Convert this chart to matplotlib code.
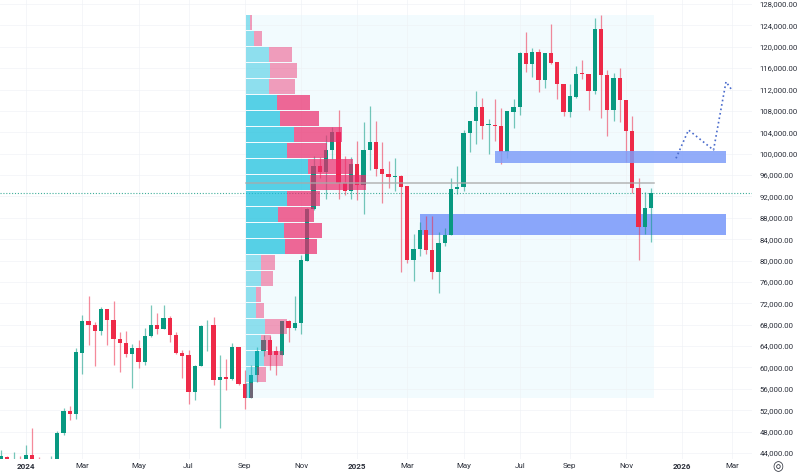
import pandas as pd
import matplotlib
matplotlib.use('Agg')
import matplotlib.pyplot as plt
import matplotlib.dates as mdates
from matplotlib.ticker import FuncFormatter

plt.rcParams['font.family'] = ['Roboto', 'DejaVu Sans']

# weekly candles, prices in thousands
opens = [42.2, 43.2, 41.8, 42.4, 42.3, 43.55, 42.5, 42.2, 42.0, 42.4,
         47.7, 51.8, 51.2, 62.7, 68.6, 67.85, 66.75, 70.85, 68.9, 65.35,
         64.5, 62.6, 63.55, 61.0, 65.85, 68.0, 67.15, 69.2, 66.15, 62.7,
         62.3, 55.4, 60.3, 67.85, 67.9, 57.65, 58.3, 57.9, 63.85, 56.85,
         54.35, 58.6, 63.0, 65.2, 63.0, 62.4, 68.65, 67.45, 68.3, 80.0,
         89.6, 97.6, 96.6, 100.75, 104.07, 94.5, 93.0, 98.0, 94.1, 100.75,
         102.2, 97.2, 96.15, 95.65, 95.8, 93.9, 80.15, 82.1, 85.65, 81.9,
         77.85, 83.3, 84.85, 93.3, 93.85, 103.8, 106.1, 108.65, 105.4, 105.4,
         105.2, 100.4, 107.8, 108.75, 118.75, 116.8, 119.0, 113.75, 118.9, 117.1,
         113.05, 107.75, 110.6, 115.05, 114.85, 111.7, 123.25, 114.7, 108.2, 114.1,
         110.1, 104.3, 93.65, 86.3, 89.9]
closes = [43.35, 42.5, 42.3, 42.0, 43.55, 42.4, 42.3, 42.4, 42.4, 47.8,
          51.8, 51.2, 62.8, 68.6, 67.85, 66.75, 70.85, 68.9, 65.35, 64.5,
          62.6, 63.55, 61.0, 65.85, 68.0, 67.15, 69.2, 66.15, 62.7, 62.15,
          55.4, 60.3, 67.8, 67.95, 57.65, 58.3, 57.9, 63.85, 56.85, 54.35,
          58.65, 63.0, 65.1, 62.4, 62.3, 68.65, 67.45, 68.3, 80.1, 89.6,
          97.6, 96.6, 100.75, 104.07, 94.5, 93.0, 98.0, 94.1, 100.75, 102.2,
          97.2, 96.15, 95.65, 95.85, 93.8, 80.15, 82.1, 85.65, 81.9, 77.85,
          83.35, 84.85, 93.3, 93.85, 103.8, 106.1, 108.65, 105.2, 105.5, 105.1,
          100.4, 108.0, 108.75, 118.75, 116.8, 119.0, 113.75, 118.9, 117.05, 113.0,
          107.75, 110.75, 114.9, 114.85, 111.7, 123.25, 114.7, 108.2, 114.1, 110.1,
          104.3, 93.65, 86.3, 89.9, 92.65]
highs = [44.5, 43.4, 44.2, 43.35, 45.55, 48.65, 43.2, 42.6, 43.35, 48.1,
         52.5, 52.7, 63.7, 69.8, 73.35, 68.55, 71.35, 70.85, 72.5, 66.55,
         66.85, 64.35, 65.1, 67.3, 71.6, 70.25, 71.6, 69.65, 66.65, 63.35,
         63.35, 60.4, 67.9, 68.85, 69.5, 62.4, 61.5, 64.6, 63.9, 59.5,
         60.4, 63.8, 66.0, 65.9, 63.95, 68.7, 68.8, 73.3, 81.0, 89.75,
         99.6, 99.4, 103.4, 105.0, 108.1, 99.5, 99.4, 102.4, 106.0, 108.9,
         106.15, 102.2, 98.6, 99.1, 96.0, 93.9, 84.9, 87.2, 88.3, 88.3,
         85.3, 86.1, 95.5, 97.65, 104.5, 106.1, 111.65, 110.5, 106.5, 110.2,
         108.6, 108.0, 110.2, 119.05, 122.8, 119.8, 119.5, 118.9, 124.2, 117.1,
         113.05, 113.0, 116.35, 117.6, 114.85, 125.3, 126.0, 115.6, 115.1, 116.05,
         110.1, 107.1, 95.5, 92.8, 93.65]
lows = [41.8, 42.0, 41.5, 41.5, 41.9, 42.0, 42.0, 41.9, 41.8, 42.0,
        47.3, 50.2, 50.4, 58.85, 64.2, 60.35, 66.15, 64.2, 60.4, 59.2,
        62.0, 56.2, 59.9, 60.4, 65.7, 66.2, 67.1, 64.7, 62.6, 58.1,
        53.2, 53.85, 60.2, 63.1, 56.7, 48.65, 55.7, 57.6, 56.7, 52.15,
        54.3, 57.25, 62.1, 59.45, 58.5, 62.3, 64.75, 67.05, 66.3, 79.9,
        89.4, 95.5, 91.6, 99.0, 91.6, 92.2, 91.6, 91.3, 88.7, 97.0,
        95.8, 90.8, 93.5, 93.0, 77.8, 79.5, 76.1, 80.8, 81.15, 76.6,
        74.0, 82.65, 84.85, 92.5, 93.0, 100.3, 101.8, 102.65, 100.0, 102.35,
        98.0, 99.2, 104.8, 107.2, 115.3, 114.4, 111.55, 112.3, 116.7, 110.2,
        107.05, 106.85, 110.4, 114.0, 108.1, 111.25, 106.7, 103.3, 106.2, 105.9,
        98.5, 92.65, 80.15, 85.0, 83.5]

# volume profile rows, top to bottom
vp_levels = [124.5, 121.5, 118.5, 115.5, 112.5, 109.5, 106.5, 103.6, 100.6, 97.6, 94.6, 91.6,
             88.6, 85.6, 82.6, 79.6, 76.6, 73.6, 70.6, 67.6, 64.6, 61.6, 58.6, 55.7]
vp_up = [4.3, 8.3, 23.3, 24.7, 23.3, 31, 34, 48.7, 41.7, 62.7, 64.3, 41,
         32.7, 38.7, 39.3, 15, 15, 10, 10, 19.3, 15.3, 18.3, 11, 4.5]
vp_down = [2, 8, 23.3, 27, 26, 33, 39.7, 47.7, 39.7, 45, 56.3, 33.7,
           36, 37.3, 31.7, 14.7, 12.7, 5, 8, 22.3, 9.7, 18.7, 9, 3]
vp_in_value_area = [False] * 5 + [True] * 10 + [False] * 9

# price zones and projected path
zone_starts = ['2025-06-09', '2025-03-17']
zone_ends = ['2026-02-23', '2026-02-23']
zone_tops = [100.5, 88.7]
zone_bottoms = [98.3, 84.8]
path_dates = ['2025-12-29', '2026-01-12', '2026-02-09', '2026-02-23', '2026-03-01']
path_prices = [99.13, 104.43, 100.68, 113.46, 112.04]

last_price = 92.65
poc_price = 94.45
price_ticks = list(range(44, 129, 4))
time_ticks = ['2024-01-01', '2024-03-04', '2024-05-06', '2024-07-01', '2024-09-02', '2024-11-04',
              '2025-01-06', '2025-03-03', '2025-05-05', '2025-07-07', '2025-09-01', '2025-11-03',
              '2026-01-05', '2026-03-02']
time_labels = ['2024', 'Mar', 'May', 'Jul', 'Sep', 'Nov', '2025', 'Mar', 'May', 'Jul', 'Sep', 'Nov',
               '2026', 'Mar']

GREEN = '#089981'
RED = '#ee2a48'
VP_BLUE = '#14bedc'
VP_PINK = '#ec286a'
DAYS_PER_PX = 7 / 6.25

dates = pd.date_range('2023-12-04', periods=len(opens), freq='7D')
x = mdates.date2num(dates)
vp_start = mdates.date2num(pd.Timestamp('2024-09-03'))
vp_end = mdates.date2num(pd.Timestamp('2025-12-04'))

fig = plt.figure(figsize=(8, 4.72), dpi=100, facecolor='white')
ax = fig.add_axes([0, 13 / 472, 752 / 800, 459 / 472])

# value area background
ax.fill_between([vp_start, vp_end], 54.3, 126, color='#f2fbfe', lw=0, zorder=0)

ax.set_axisbelow(False)
for t in price_ticks:
    ax.axhline(t, color='#eef1f5', lw=0.6, alpha=0.7, zorder=0.5)
for t in time_ticks:
    ax.axvline(mdates.date2num(pd.Timestamp(t)), color='#eef1f5', lw=0.6, alpha=0.7, zorder=0.5)

# lower zone sits behind the candles, upper one in front
z_starts = mdates.date2num(pd.to_datetime(zone_starts))
z_ends = mdates.date2num(pd.to_datetime(zone_ends))
ax.fill_between([z_starts[1], z_ends[1]], zone_bottoms[1], zone_tops[1], color='#8aa6fa', lw=0, zorder=1)
ax.fill_between([z_starts[0], z_ends[0]], zone_bottoms[0], zone_tops[0], color='#7f9ef9', alpha=0.85, lw=0, zorder=4)

ax.axhline(last_price, color='#3fae9a', lw=0.8, ls=(0, (1, 1.6)), zorder=1.5)

colors = [GREEN if c >= o else RED for o, c in zip(opens, closes)]
ax.vlines(x, lows, highs, colors=colors, lw=0.9, alpha=0.55, zorder=2)
body_bottom = [min(o, c) for o, c in zip(opens, closes)]
body_height = [max(abs(c - o), 0.15) for o, c in zip(opens, closes)]
ax.bar(x, body_height, bottom=body_bottom, width=4.8, color=colors, lw=0, zorder=2.5)

# volume profile over the candles
for lev, up, down, inside in zip(vp_levels, vp_up, vp_down, vp_in_value_area):
    alpha = 0.7 if inside else 0.45
    ax.barh(lev, up * DAYS_PER_PX, left=vp_start, height=2.8, color=VP_BLUE, alpha=alpha, lw=0, zorder=3)
    ax.barh(lev, down * DAYS_PER_PX, left=vp_start + up * DAYS_PER_PX, height=2.8,
            color=VP_PINK, alpha=alpha, lw=0, zorder=3)

ax.plot([vp_start, vp_end], [poc_price, poc_price], color='#a9a9a9', lw=1.1, alpha=0.85, zorder=3.5)

ax.plot(mdates.date2num(pd.to_datetime(path_dates)), path_prices, color='#4a6bcc', lw=1.2,
        ls=(0, (1, 1.7)), zorder=5)

ax.set_xlim(x[0] - 1.12, x[0] + 841.1)
ax.set_ylim(42.87, 128.75)

ax.yaxis.tick_right()
ax.set_yticks(price_ticks)
ax.yaxis.set_major_formatter(FuncFormatter(lambda v, pos: f'{v * 1000:,.2f}'))
ax.tick_params(axis='y', length=0, pad=5.5, labelsize=5.6, labelcolor='#2a2e39')

ax.set_xticks(mdates.date2num(pd.to_datetime(time_ticks)))
ax.set_xticklabels(time_labels)
ax.tick_params(axis='x', length=0, pad=3.2, labelsize=5.8, labelcolor='#2a2e39')
for lab in ax.get_xticklabels():
    if lab.get_text().isdigit():
        lab.set_fontweight('bold')

for s in ax.spines.values():
    s.set_visible(False)
ax.grid(False)

fig.text(778 / 800, 5 / 472, '\u25ce', fontsize=9, color='#2a2e39', ha='center', va='center',
         family=['DejaVu Sans'])

fig.savefig('out.png', dpi=100, facecolor='white')
